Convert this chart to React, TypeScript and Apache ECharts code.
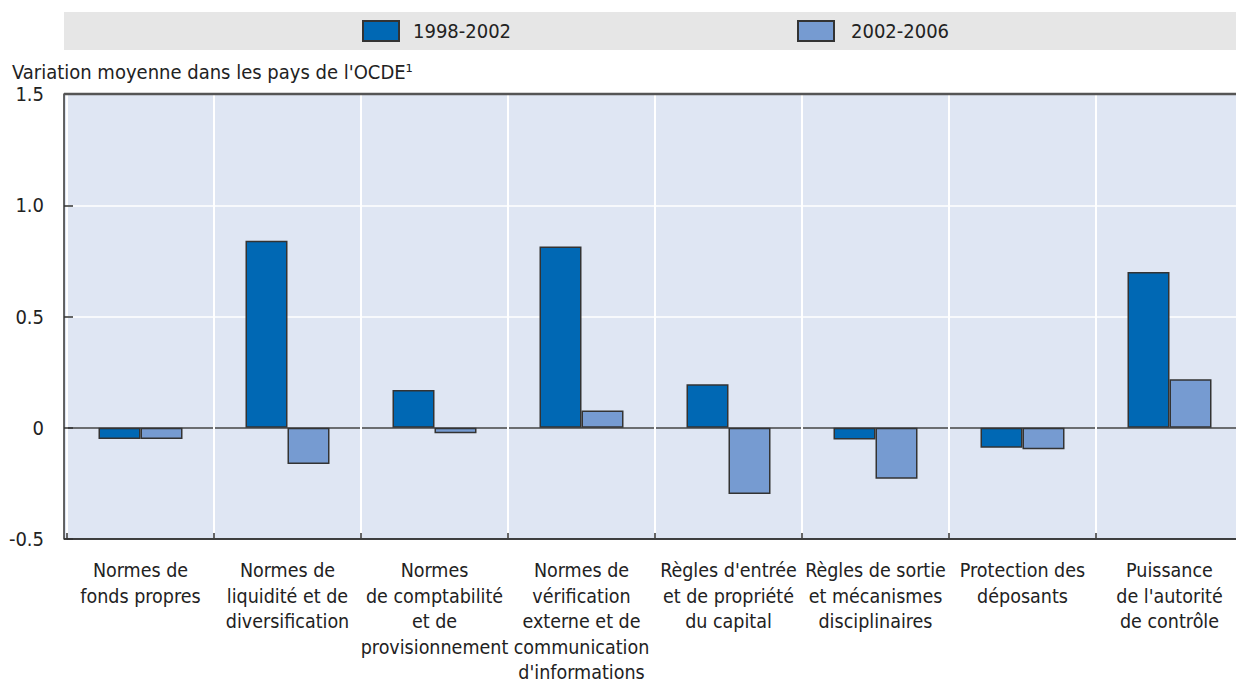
import React, { useEffect, useRef } from "react";
import * as echarts from "echarts";

const categories = [
  "Normes de\nfonds propres",
  "Normes de\nliquidité et de\ndiversification",
  "Normes\nde comptabilité\net de\nprovisionnement",
  "Normes de\nvérification\nexterne et de\ncommunication\nd'informations",
  "Règles d'entrée\net de propriété\ndu capital",
  "Règles de sortie\net mécanismes\ndisciplinaires",
  "Protection des\ndéposants",
  "Puissance\nde l'autorité\nde contrôle",
];
const series1998 = [-0.05, 0.84, 0.17, 0.815, 0.195, -0.053, -0.09, 0.7];
const series2002 = [-0.05, -0.163, -0.025, 0.078, -0.298, -0.229, -0.097, 0.218];
const seriesNames = ["1998-2002", "2002-2006"];
const yTicks = { min: -0.5, max: 1.5, interval: 0.5 };
const yTitle = "Variation moyenne dans les pays de l'OCDE¹";

const FONT = "'Liberation Sans Narrow', 'DejaVu Sans Condensed', 'Arial Narrow', sans-serif";

export default function App() {
  const ref = useRef<HTMLDivElement>(null);
  useEffect(() => {
    if (!ref.current) return;
    const chart = echarts.init(ref.current, null, { renderer: "svg" });
    const dark = "#0068b4";
    const light = "#769bd1";
    const gridLeft = 67;
    const axisX = 64;
    const top = 94;
    const bottomY = 539;
    const W = 1236;
    chart.setOption({
      animation: false,
      textStyle: { fontFamily: FONT },
      graphic: [
        {
          type: "rect",
          shape: { x: axisX, y: 12, width: W - axisX, height: 38 },
          style: { fill: "#e6e6e6" },
          z: -10,
        },
        {
          type: "rect",
          shape: { x: axisX, y: top, width: W - axisX, height: bottomY - top },
          style: { fill: "#dfe6f3" },
          z: -10,
        },
        {
          type: "line",
          shape: { x1: axisX, y1: top, x2: W, y2: top },
          style: { stroke: "#555", lineWidth: 2.5 },
          z: 10,
        },
        {
          type: "line",
          shape: { x1: axisX, y1: bottomY, x2: gridLeft + 1, y2: bottomY },
          style: { stroke: "#333", lineWidth: 1.5 },
          z: 10,
        },
        {
          type: "text",
          x: 12,
          y: 72,
          style: {
            text: yTitle,
            font: `20px ${FONT}`,
            fill: "#222",
            verticalAlign: "middle",
          },
        },
      ],
      legend: [
        {
          data: [seriesNames[0]],
          left: 362,
          top: 20,
          padding: 0,
          itemWidth: 36,
          itemHeight: 20,
          icon: "rect",
          textStyle: { fontSize: 20, color: "#222", fontFamily: FONT, padding: [0, 0, 0, 9] },
        },
        {
          data: [seriesNames[1]],
          left: 797,
          top: 20,
          padding: 0,
          itemWidth: 36,
          itemHeight: 20,
          icon: "rect",
          textStyle: { fontSize: 20, color: "#222", fontFamily: FONT, padding: [0, 0, 0, 12] },
        },
      ],
      grid: {
        left: gridLeft,
        top: top,
        right: -7,
        bottom: 686 - bottomY,
        show: false,
        containLabel: false,
        outerBoundsMode: "none",
      },
      xAxis: {
        type: "category",
        data: categories,
        axisLine: { show: true, onZero: false, lineStyle: { color: "#333", width: 1.5 } },
        axisTick: { show: true, inside: true, length: 6, lineStyle: { color: "#333", width: 1.5 } },
        axisLabel: {
          interval: 0,
          color: "#222",
          fontSize: 19.5,
          lineHeight: 25.5,
          margin: 19,
          fontFamily: FONT,
          verticalAlign: "top",
        },
        splitLine: { show: true, interval: 0, lineStyle: { color: "#ffffff", width: 2 } },
      },
      yAxis: {
        type: "value",
        min: yTicks.min,
        max: yTicks.max,
        interval: yTicks.interval,
        offset: gridLeft - axisX,
        axisLine: { show: true, lineStyle: { color: "#333", width: 1.5 } },
        axisTick: { show: true, inside: true, length: 9, lineStyle: { color: "#333", width: 1.5 } },
        axisLabel: {
          color: "#222",
          fontSize: 20,
          margin: 20,
          fontFamily: FONT,
          formatter: (v: number) => (v === 0 ? "0" : v.toFixed(1)),
        },
        splitLine: {
          show: true,
          lineStyle: { color: ["#333", "#444", "#ffffff", "#ffffff", "#555"], width: 1.5 },
        },
      },
      series: [
        {
          name: seriesNames[0],
          type: "bar",
          data: series1998,
          barWidth: 42,
          barGap: "0%",
          itemStyle: { color: dark, borderColor: "#333", borderWidth: 1.5 },
        },
        {
          name: seriesNames[1],
          type: "bar",
          data: series2002,
          barWidth: 42,
          barGap: "0%",
          itemStyle: { color: light, borderColor: "#333", borderWidth: 1.5 },
        },
      ],
    });
    return () => chart.dispose();
  }, []);
  return <div ref={ref} style={{ width: 1236, height: 686, position: "absolute", left: 0, top: 0 }} />;
}
